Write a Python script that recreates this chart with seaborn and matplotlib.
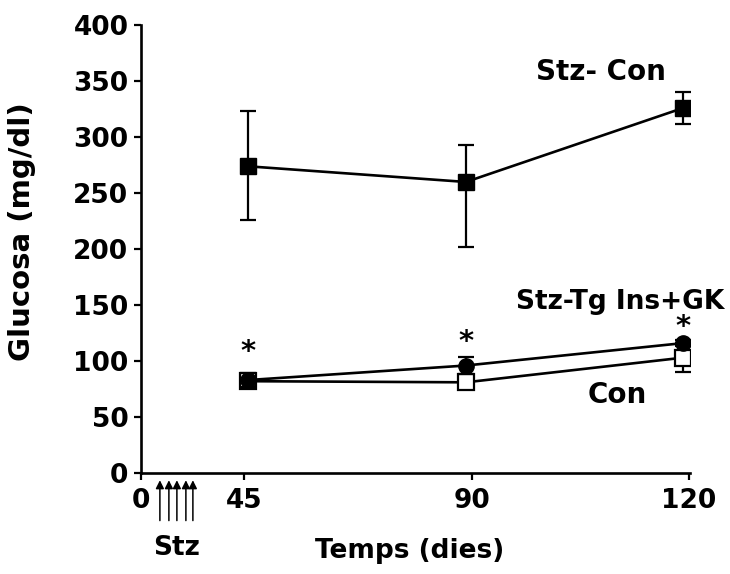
import matplotlib
matplotlib.use("Agg")
import matplotlib.pyplot as plt
import seaborn as sns
import numpy as np

sns.set_theme(style="white")
plt.rcParams['font.family'] = ['DejaVu Sans']
plt.rcParams['font.weight'] = 'bold'
plt.rcParams['text.color'] = 'black'

# Data
tick_labels = ["0", "45", "90", "120"]
tick_pos = [0.0, 1.03, 3.31, 5.48]       # broken (non-linear) axis of the original
x_pos = [1.07, 3.25, 5.42]                # plotted positions for days 45, 90, 120

stz_con = [274, 260, 326]
stz_con_lo = [48, 58, 14]
stz_con_hi = [49, 33, 14]

stz_tg = [83, 96, 116]
stz_tg_err = [6, 8, 3]

con = [82, 81, 103]
con_err = [6, 4, 13]

star_y = [108, 117, 130]
stz_arrows_x = [0.19, 0.28, 0.36, 0.45, 0.52]

FS = 19

fig = plt.figure(figsize=(7.30, 5.74), dpi=100)
ax = fig.add_axes([0.193, 0.176, 0.752, 0.780])

lw = 1.9
# Stz-Con
sns.lineplot(x=x_pos, y=stz_con, ax=ax, color="black", lw=lw, zorder=2)
ax.errorbar(x_pos, stz_con, yerr=[stz_con_lo, stz_con_hi], fmt="none", ecolor="black",
            elinewidth=1.6, capsize=6, capthick=1.6, zorder=2)
ax.plot(x_pos, stz_con, ls="none", marker="s", ms=12, mfc="black", mec="black", zorder=3)

# Con (open squares)
sns.lineplot(x=x_pos, y=con, ax=ax, color="black", lw=lw, zorder=2)
ax.errorbar(x_pos, con, yerr=con_err, fmt="none", ecolor="black",
            elinewidth=1.6, capsize=6, capthick=1.6, zorder=2)
ax.plot(x_pos, con, ls="none", marker="s", ms=11, mfc="white", mec="black", mew=1.6, zorder=3)

# Stz-Tg Ins+GK (filled circles)
sns.lineplot(x=x_pos, y=stz_tg, ax=ax, color="black", lw=lw, zorder=4)
ax.errorbar(x_pos, stz_tg, yerr=stz_tg_err, fmt="none", ecolor="black",
            elinewidth=1.6, capsize=6, capthick=1.6, zorder=4)
ax.plot(x_pos, stz_tg, ls="none", marker="o", ms=11, mfc="black", mec="black", zorder=5)

for xp, sy in zip(x_pos, star_y):
    ax.text(xp, sy, "*", ha="center", va="center", fontsize=21, fontweight="bold",
            color="black")

ax.text(4.6, 358, "Stz- Con", ha="center", va="center", fontsize=20, fontweight="bold",
        color="black")
ax.text(4.79, 153, "Stz-Tg Ins+GK", ha="center", va="center", fontsize=FS,
        fontweight="bold", color="black")
ax.text(4.76, 70, "Con", ha="center", va="center", fontsize=20, fontweight="bold",
        color="black")

ax.set_xlim(0, 5.49)
ax.set_ylim(0, 400)
ax.set_xticks(tick_pos)
ax.set_xticklabels(tick_labels)
ax.set_yticks(np.arange(0, 401, 50))

for s in ["top", "right"]:
    ax.spines[s].set_visible(False)
for s in ["left", "bottom"]:
    ax.spines[s].set_color("black")
    ax.spines[s].set_linewidth(1.9)

ax.tick_params(axis="both", direction="out", length=5, width=1.6, color="black",
               labelsize=FS, labelcolor="black", bottom=True, left=True)
ax.tick_params(axis="x", pad=6)
ax.tick_params(axis="y", pad=4)
for lab in ax.get_xticklabels() + ax.get_yticklabels():
    lab.set_fontweight("bold")

ax.text(0.49, -0.174, "Temps (dies)", transform=ax.transAxes, ha="center", va="center",
        fontsize=FS, fontweight="bold", color="black")
ax.text(-0.217, 0.54, "Glucosa (mg/dl)", transform=ax.transAxes, ha="center", va="center",
        rotation=90, fontsize=21, fontweight="bold", color="black")

# Stz injection arrows below the axis
for xa in stz_arrows_x:
    ax.annotate("", xy=(xa, -4), xytext=(xa, -45), xycoords="data", textcoords="data",
                arrowprops=dict(arrowstyle="-|>", color="black", lw=1.1,
                                mutation_scale=12), annotation_clip=False)
ax.text(0.36, -67, "Stz", ha="center", va="center", fontsize=FS, fontweight="bold",
        clip_on=False, color="black")

fig.savefig("out.png", dpi=100, facecolor="white")
